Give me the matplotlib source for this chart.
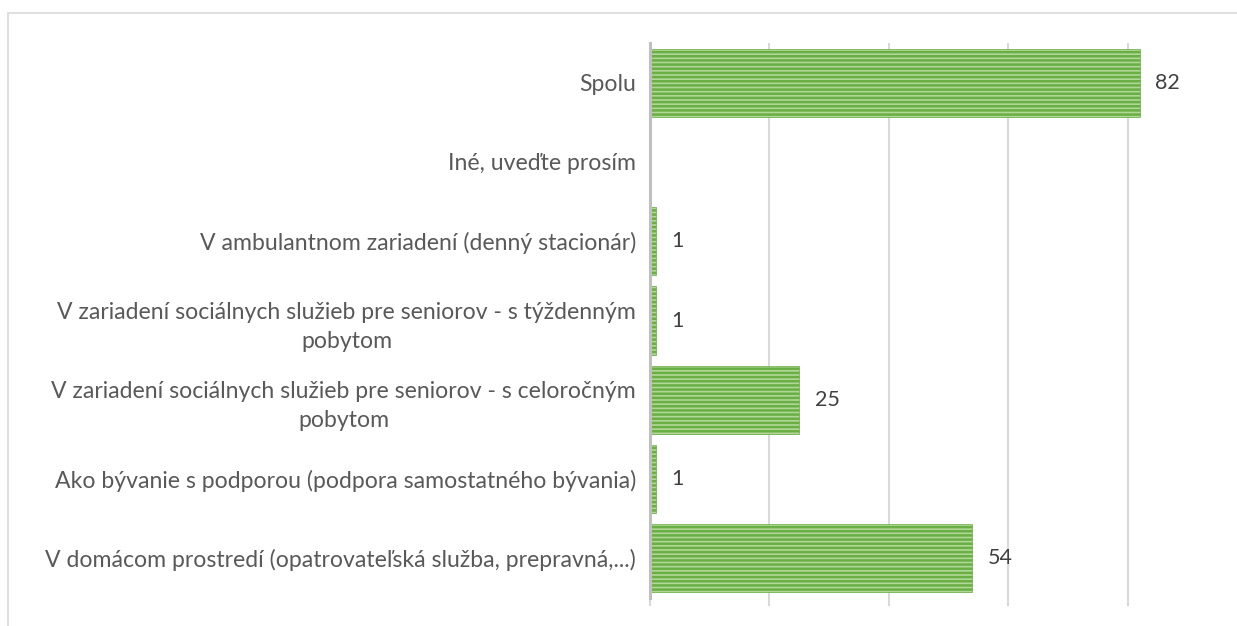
import matplotlib.pyplot as plt
from matplotlib.patches import Rectangle
import numpy as np

# categories listed top to bottom, as in the picture
categories = [
    "Spolu",
    "Iné, uveďte prosím",
    "V ambulantnom zariadení (denný stacionár)",
    "V zariadení sociálnych služieb pre seniorov - s týždenným\npobytom",
    "V zariadení sociálnych služieb pre seniorov - s celoročným\npobytom",
    "Ako bývanie s podporou (podpora samostatného bývania)",
    "V domácom prostredí (opatrovateľská služba, prepravná,...)",
]
values = [82, np.nan, 1, 1, 25, 1, 54]
xticks = [0, 20, 40, 60, 80, 100]

plt.rcParams['font.family'] = ['Lato', 'DejaVu Sans']
plt.rcParams['hatch.linewidth'] = 1.8
plt.rcParams['hatch.color'] = '#56a032'

W, H = 1237, 626
fig = plt.figure(figsize=(W / 100, H / 100), dpi=100)

# chart frame
fig.patches.append(Rectangle((8 / W, -0.1), 1.2, (H - 13) / H + 0.1,
                             transform=fig.transFigure, fill=False,
                             edgecolor='#d9d9d9', linewidth=1.2))

ax = fig.add_axes([650 / W, (H - 598) / H, (1247 - 650) / W, (598 - 43) / H])

y = np.arange(len(categories))
vals = np.nan_to_num(np.array(values, dtype=float))
bars = ax.barh(y, vals, height=0.86, color='#b0d795', hatch='----',
               edgecolor='#6aae46', linewidth=0.5, zorder=3)

for yi, v in zip(y, values):
    if np.isnan(v):
        continue
    ax.annotate(f"{v:g}", (v, yi), xytext=(11, 0), textcoords='offset points',
                va='center', ha='left', fontsize=15.5, color='#404040')

ax.set_ylim(len(categories) - 0.5, -0.5)
ax.set_xlim(0, 100)
ax.set_yticks(y)
ax.set_yticklabels(categories, fontsize=16.6, color='#595959',
                   multialignment='center', linespacing=1.5)
ax.set_xticks(xticks)
ax.set_xticklabels([])
ax.tick_params(axis='y', length=0, pad=10)
ax.tick_params(axis='x', length=6, width=1.5, color='#d9d9d9', direction='out')
ax.grid(axis='x', color='#d9d9d9', linewidth=1.5, zorder=0)
for s in ['top', 'right', 'bottom']:
    ax.spines[s].set_visible(False)
ax.spines['left'].set_color('#bfbfbf')
ax.spines['left'].set_linewidth(2.2)
ax.spines['left'].set_zorder(4)

fig.savefig('out.png', dpi=100)
